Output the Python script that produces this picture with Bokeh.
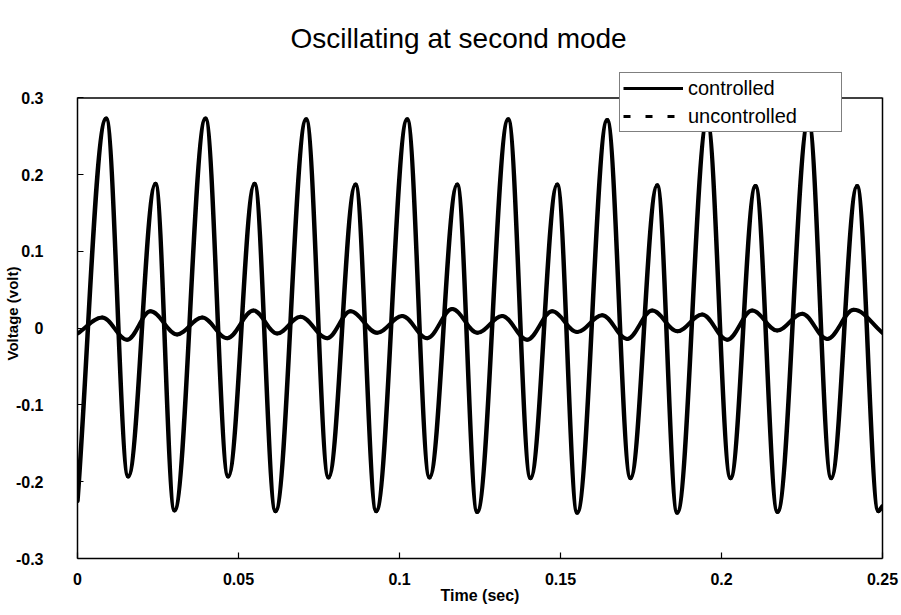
import numpy as np
from bokeh.plotting import figure
from bokeh.models import (Range1d, FixedTicker, Legend, LegendItem, ColumnDataSource,
                          LinearAxis, Span)
from bokeh.embed import file_html
from bokeh.resources import INLINE

title_text = "Oscillating at second mode"
x_label = "Time (sec)"
y_label = "Voltage (volt)"
ctrl_label = "controlled"
unc_label = "uncontrolled"

# controlled response: turning points (time in s, voltage in V)
ctrl_t = [0.0, 0.00891, 0.01575, 0.02422, 0.03012, 0.03975, 0.0468, 0.05497, 0.06149,
          0.07102, 0.07795, 0.08634, 0.09276, 0.10239, 0.10932, 0.11792, 0.12413,
          0.13376, 0.14068, 0.14898, 0.15519, 0.1645, 0.17174, 0.18003, 0.18624,
          0.19556, 0.2028, 0.21056, 0.21739, 0.22702, 0.23407, 0.2421, 0.24872, 0.25]
ctrl_v = [-0.225, 0.273, -0.193, 0.188, -0.237, 0.273, -0.193, 0.188, -0.238,
          0.272, -0.194, 0.187, -0.238, 0.272, -0.194, 0.187, -0.239,
          0.272, -0.195, 0.187, -0.240, 0.271, -0.195, 0.186, -0.240,
          0.270, -0.195, 0.185, -0.239, 0.270, -0.195, 0.185, -0.238, -0.232]

# uncontrolled response: turning points
unc_t = [0.0, 0.00767, 0.01543, 0.02267, 0.03096, 0.03873, 0.04649, 0.05466, 0.06202,
         0.06925, 0.07755, 0.08478, 0.09307, 0.10084, 0.1086, 0.11637, 0.12422,
         0.1319, 0.13966, 0.14742, 0.15519, 0.16295, 0.17071, 0.17848, 0.18634,
         0.194, 0.20177, 0.20953, 0.2173, 0.22506, 0.23282, 0.24109, 0.25]
unc_v = [-0.007, 0.014, -0.015, 0.022, -0.008, 0.014, -0.013, 0.023, -0.007,
         0.015, -0.013, 0.022, -0.006, 0.016, -0.013, 0.025, -0.006,
         0.016, -0.015, 0.022, -0.005, 0.017, -0.014, 0.023, -0.004,
         0.018, -0.015, 0.023, -0.003, 0.019, -0.014, 0.024, -0.006]

x_ticks = [0.0, 0.05, 0.1, 0.15, 0.2, 0.25]
x_tick_labels = ["0", "0.05", "0.1", "0.15", "0.2", "0.25"]
y_ticks = [-0.3, -0.2, -0.1, 0.0, 0.1, 0.2, 0.3]
y_tick_labels = ["-0.3", "-0.2", "-0.1", "0", "0.1", "0.2", "0.3"]

FONT = "Liberation Sans"
Y_LO, Y_HI = min(y_ticks), max(y_ticks)
Y_HEADROOM = 0.0384   # room above the frame line for the legend box


def turning_point_segments(t, v, k=0.36):
    """Cubic segments through the turning points: flat tangent at each
    interior extremum, chord tangent at the two ends."""
    t = np.asarray(t, float)
    v = np.asarray(v, float)
    n = len(t)
    slope = np.zeros(n)
    slope[0] = (v[1] - v[0]) / (t[1] - t[0])
    slope[-1] = (v[-1] - v[-2]) / (t[-1] - t[-2])
    for i in range(1, n - 1):
        if (v[i] - v[i - 1]) * (v[i + 1] - v[i]) > 0:
            slope[i] = (v[i + 1] - v[i - 1]) / (t[i + 1] - t[i - 1])
    dt = t[1:] - t[:-1]
    return dict(
        x0=t[:-1], y0=v[:-1], x1=t[1:], y1=v[1:],
        cx0=t[:-1] + k * dt, cy0=v[:-1] + k * dt * slope[:-1],
        cx1=t[1:] - k * dt, cy1=v[1:] - k * dt * slope[1:],
    )


p = figure(width=901, height=615, output_backend="svg", toolbar_location=None,
           x_range=Range1d(min(x_ticks), max(x_ticks)),
           y_range=Range1d(Y_LO, Y_HI + Y_HEADROOM),
           min_border_left=77, min_border_right=19, min_border_top=68, min_border_bottom=57,
           background_fill_color="white", border_fill_color="white")

p.title.text = title_text
p.title.align = "left"
p.title.offset = 213
p.title.standoff = 30
p.title.text_font = FONT
p.title.text_font_size = "28px"
p.title.text_font_style = "normal"
p.title.text_color = "black"

p.grid.visible = False
p.outline_line_color = None

for ax in (p.xaxis[0], p.yaxis[0]):
    ax.axis_line_color = "black"
    ax.axis_line_width = 1.5
    ax.major_tick_in = 6
    ax.major_tick_out = 0
    ax.major_tick_line_color = "black"
    ax.major_tick_line_width = 1.2
    ax.minor_tick_line_color = None
    ax.major_label_text_font = FONT
    ax.major_label_text_font_size = "16px"
    ax.major_label_text_font_style = "bold"
    ax.major_label_text_color = "black"
    ax.axis_label_text_font = FONT
    ax.axis_label_text_font_style = "bold"
    ax.axis_label_text_color = "black"

p.xaxis.ticker = FixedTicker(ticks=x_ticks)
p.xaxis.major_label_overrides = dict(zip(x_ticks, x_tick_labels))
p.xaxis.axis_label = x_label
p.xaxis.axis_label_text_font_size = "16px"
p.xaxis.major_label_standoff = 14
p.xaxis.axis_label_standoff = -1

p.yaxis.ticker = FixedTicker(ticks=y_ticks)
p.yaxis.major_label_overrides = dict(zip(y_ticks, y_tick_labels))
p.yaxis.bounds = (Y_LO, Y_HI)
p.yaxis.axis_label = y_label
p.yaxis.axis_label_text_font_size = "15px"
p.yaxis.major_label_standoff = 34
p.yaxis.axis_label_standoff = -8

# right and top sides of the plot box
right_axis = LinearAxis(ticker=FixedTicker(ticks=[]), bounds=(Y_LO, Y_HI),
                        axis_line_color="black", axis_line_width=1.5,
                        major_tick_line_color=None, minor_tick_line_color=None,
                        major_label_text_font_size="0px")
p.add_layout(right_axis, "right")
p.add_layout(Span(location=Y_HI, dimension="width", line_color="black", line_width=1.5))

src_unc = ColumnDataSource(turning_point_segments(unc_t, unc_v))
src_ctrl = ColumnDataSource(turning_point_segments(ctrl_t, ctrl_v))

p.bezier(x0="x0", y0="y0", x1="x1", y1="y1", cx0="cx0", cy0="cy0", cx1="cx1", cy1="cy1",
         source=src_unc, line_color="black", line_width=4, line_cap="round")
p.bezier(x0="x0", y0="y0", x1="x1", y1="y1", cx0="cx0", cy0="cy0", cx1="cx1", cy1="cy1",
         source=src_ctrl, line_color="black", line_width=4.5, line_cap="round")

# legend swatches (nothing drawn in the plot area)
leg_ctrl = p.line(x=[np.nan], y=[np.nan], line_color="black", line_width=3)
leg_unc = p.line(x=[np.nan], y=[np.nan], line_color="black", line_width=3, line_dash="7 15")

legend = Legend(items=[LegendItem(label=ctrl_label, renderers=[leg_ctrl]),
                       LegendItem(label=unc_label, renderers=[leg_unc])],
                location=(542, 426), glyph_width=60, glyph_height=24, label_height=24,
                label_width=150, label_standoff=5, padding=3, spacing=4, margin=0,
                label_text_font=FONT, label_text_font_size="20px", label_text_color="black",
                border_line_color="black", border_line_width=1.5,
                background_fill_color="white", background_fill_alpha=1.0)
p.add_layout(legend)

open("out.html", "w").write(file_html(p, INLINE))
